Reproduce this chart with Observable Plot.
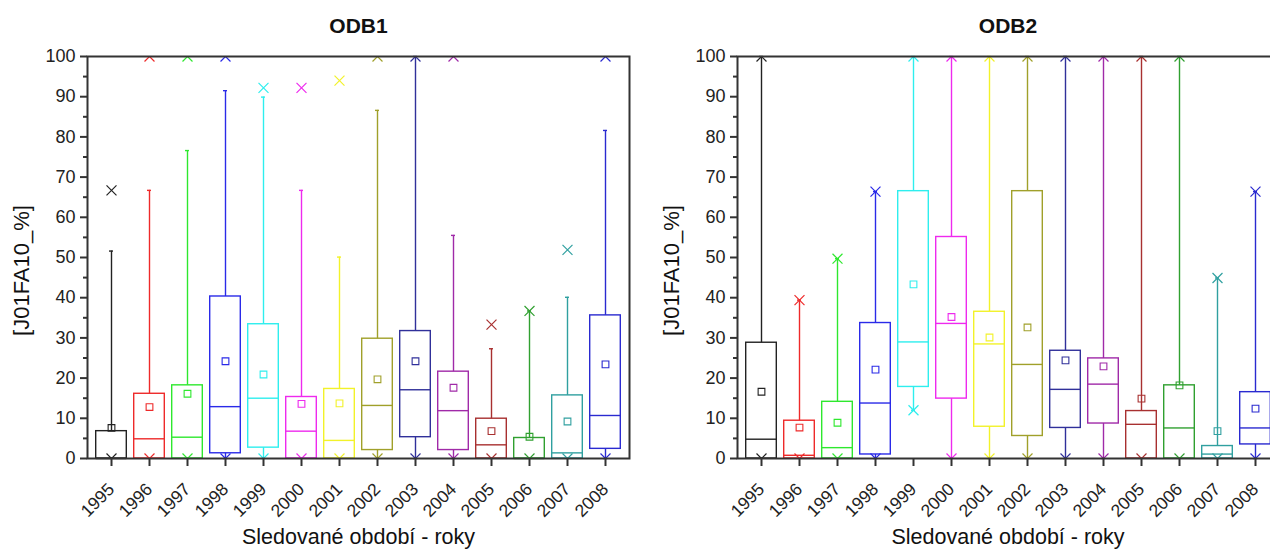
<!DOCTYPE html>
<html>
<head>
<meta charset="utf-8">
<script src="https://cdn.jsdelivr.net/npm/d3@7"></script>
<script src="https://cdn.jsdelivr.net/npm/@observablehq/plot@0.6"></script>
<style>
  html, body { margin: 0; padding: 0; background: #fff; }
  #wrap { position: relative; width: 1270px; height: 549px; overflow: hidden; }
  #p1, #p2 { position: absolute; top: 0; }
  #p1 { left: 0; width: 640px; }
  #p2 { left: 640px; width: 648px; }
  svg { max-width: none !important; }
</style>
</head>
<body>
<div id="wrap"><div id="p1"></div><div id="p2"></div></div>
<script>
// ---- data ----
const years = ["1995","1996","1997","1998","1999","2000","2001","2002","2003","2004","2005","2006","2007","2008"];
const colors = ["#222222","#ee2a2a","#2ee82e","#2a2ae8","#2eeeee","#ee2aee","#f2f22a","#a0a02a","#30309a","#a02aa8","#a83030","#30a030","#30a0a0","#2a2ad0"];
const yTicks = [0,10,20,30,40,50,60,70,80,90,100];
const yMinorTicks = [5,15,25,35,45,55,65,75,85,95];

// ODB1
const odb1Q1     = [0, 0, 0, 1.3, 2.7, 0, 0, 2.1, 5.3, 2.1, 0, 0, 0, 2.4];
const odb1Q3     = [6.8, 16.1, 18.2, 40.3, 33.4, 15.3, 17.3, 29.8, 31.7, 21.6, 9.9, 5.1, 15.7, 35.6];
const odb1Median = [0, 4.9, 5.3, 12.9, 15.0, 6.8, 4.5, 13.2, 17.1, 11.9, 3.4, 0, 1.4, 10.7];
const odb1Mean   = [7.6, 12.8, 16.1, 24.2, 20.9, 13.6, 13.7, 19.7, 24.2, 17.6, 6.8, 5.4, 9.2, 23.4];
const odb1WhLo   = [0, 0, 0, 0, 0, 0, 0, 0, 0, 0, 0, 0, 0, 0];
const odb1WhHi   = [51.6, 66.7, 76.6, 91.5, 89.9, 66.7, 50.1, 86.6, 100, 55.5, 27.3, 36.7, 40.1, 81.6];
const odb1XLo    = [0, 0, 0, 0, 0, 0, 0, 0, 0, 0, 0, 0, 0, 0];
const odb1XHi    = [66.7, 100, 100, 100, 92.2, 92.2, 94.0, 100, 100, 100, 33.3, 36.7, 51.9, 100];

// ODB2
const odb2Q1     = [0, 0, 0, 1.0, 17.8, 14.9, 7.9, 5.6, 7.6, 8.7, 0, 0, 0, 3.5];
const odb2Q3     = [28.8, 9.4, 14.1, 33.7, 66.5, 55.1, 36.5, 66.5, 26.8, 24.9, 11.8, 18.2, 3.1, 16.5];
const odb2Median = [4.8, 0.8, 2.7, 13.8, 29.0, 33.6, 28.5, 23.4, 17.2, 18.5, 8.5, 7.6, 1.1, 7.6];
const odb2Mean   = [16.6, 7.7, 8.9, 22.1, 43.3, 35.2, 30.1, 32.6, 24.4, 22.9, 14.9, 18.2, 6.8, 12.4];
const odb2WhLo   = [0, 0, 0, 0, 12.0, 0, 0, 0, 0, 0, 0, 0, 0, 0];
const odb2WhHi   = [100, 39.4, 49.7, 66.4, 100, 100, 100, 100, 100, 100, 100, 100, 44.9, 66.4];
const odb2XLo    = [0, 0, 0, 0, 12.0, 0, 0, 0, 0, 0, 0, 0, 0, 0];
const odb2XHi    = [100, 39.4, 49.7, 66.4, 100, 100, 100, 100, 100, 100, 100, 100, 44.9, 66.4];

const yLabel = "[J01FA10_%]";
const xLabel = "Sledované období - roky";

function table(q1, q3, med, mean, wlo, whi, xlo, xhi) {
  return years.map((y, i) => ({
    year: y, color: colors[i], q1: q1[i], q3: q3[i], med: med[i], mean: mean[i],
    wlo: wlo[i], whi: whi[i], xlo: xlo[i], xhi: xhi[i]
  }));
}

const FONT = "'Liberation Sans', Arial, Helvetica, sans-serif";

function panel(title, data, opts) {
  const sw = 1.4;
  return Plot.plot({
    width: opts.width,
    height: 549,
    marginLeft: opts.marginLeft,
    marginRight: opts.marginRight,
    marginTop: 56,
    marginBottom: 91,
    style: { fontFamily: FONT, fontSize: "18px", color: "#222", background: "#fff", overflow: "visible" },
    x: { type: "band", domain: years, padding: 0, axis: null },
    y: { domain: [0, 100], axis: null },
    color: { type: "identity" },
    marks: [
      // whiskers
      Plot.ruleX(data, { x: "year", y1: "q3", y2: "whi", stroke: "color", strokeWidth: sw }),
      Plot.ruleX(data, { x: "year", y1: "wlo", y2: "q1", stroke: "color", strokeWidth: sw }),
      // whisker caps
      Plot.tickY(data, { x: "year", y: "whi", stroke: "color", strokeWidth: sw, inset: 17 }),
      Plot.tickY(data.filter(d => d.q1 > 0), { x: "year", y: "wlo", stroke: "color", strokeWidth: sw, inset: 17 }),
      // boxes
      Plot.barY(data, { x: "year", y1: "q1", y2: "q3", fill: "none", stroke: "color", strokeWidth: sw, insetLeft: 3.7, insetRight: 3.7 }),
      // medians
      Plot.tickY(data, { x: "year", y: "med", stroke: "color", strokeWidth: sw, inset: 3.7 }),
      // means
      Plot.dot(data, { x: "year", y: "mean", symbol: "square", r: 3.8, stroke: "color", strokeWidth: 1.1, fill: "none" }),
      // extreme markers
      Plot.dot(data, { x: "year", y: "xhi", symbol: "times", r: 4.6, stroke: "color", strokeWidth: 1.2, clip: true }),
      Plot.dot(data, { x: "year", y: "xlo", symbol: "times", r: 4.6, stroke: "color", strokeWidth: 1.2, clip: true }),
      // frame
      Plot.frame({ stroke: "#333", strokeWidth: 2 }),
      // axes
      Plot.axisY({ ticks: yTicks, tickSize: 7, tickPadding: 5, tickFormat: d => String(d), fontSize: 18, label: null, stroke: "#333", strokeWidth: 2 }),
      Plot.axisY({ ticks: yMinorTicks, tickSize: 4, tickFormat: () => "", label: null, stroke: "#333", strokeWidth: 2 }),
      Plot.axisX({ tickSize: 8, tickPadding: 20, tickRotate: -45, fontSize: 17.5, label: null, stroke: "#333", strokeWidth: 2 }),
      // titles / labels
      Plot.text([title], { frameAnchor: "top", lineAnchor: "middle", dy: -30, fontWeight: "bold", fontSize: 21, fill: "#111" }),
      Plot.text([yLabel], { frameAnchor: "left", textAnchor: "middle", lineAnchor: "middle", dx: -66, dy: 13, rotate: -90, fontSize: 22, fill: "#111" }),
      Plot.text([xLabel], { frameAnchor: "bottom", lineAnchor: "middle", dy: 79, fontSize: 21.5, fill: "#111" })
    ]
  });
}

const d1 = table(odb1Q1, odb1Q3, odb1Median, odb1Mean, odb1WhLo, odb1WhHi, odb1XLo, odb1XHi);
const d2 = table(odb2Q1, odb2Q3, odb2Median, odb2Mean, odb2WhLo, odb2WhHi, odb2XLo, odb2XHi);

document.getElementById("p1").appendChild(panel("ODB1", d1, { width: 640, marginLeft: 87, marginRight: 11 }));
document.getElementById("p2").appendChild(panel("ODB2", d2, { width: 648, marginLeft: 97, marginRight: 10 }));
</script>
</body>
</html>
